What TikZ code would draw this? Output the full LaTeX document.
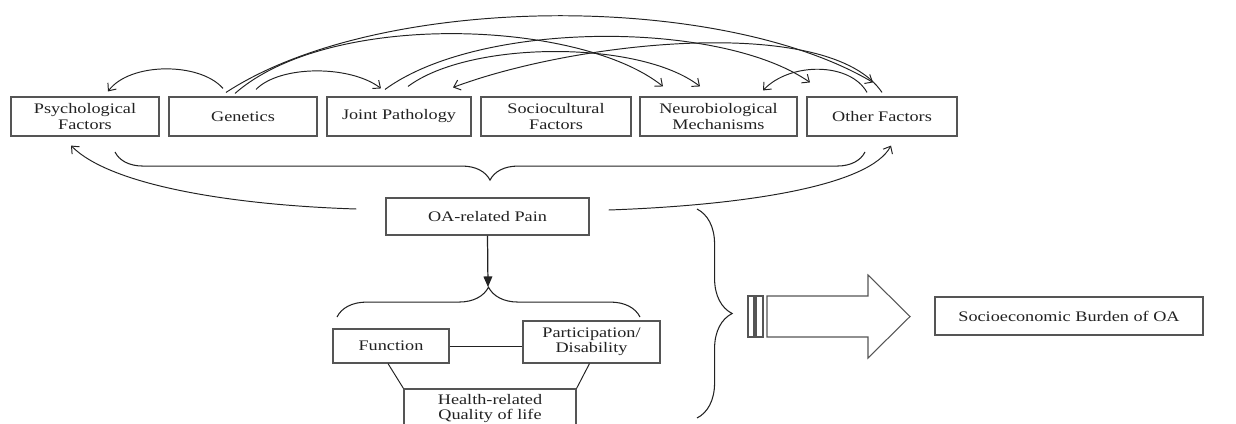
\documentclass[tikz,border=0pt]{standalone}
\usepackage{fontspec}
\setmainfont{Liberation Serif}[FakeStretch=1.25]
\usepackage{tikz}
\usetikzlibrary{arrows.meta,calc,decorations.pathreplacing}
\definecolor{oaink}{HTML}{222222}
\definecolor{oaline}{HTML}{555555}

\begin{document}
\begin{tikzpicture}[x=0.02cm, y=-0.02cm,
  factorbox/.style={draw=oaline, fill=white, line width=0.65pt,
                    minimum width=#1, minimum height=0.78cm, inner sep=1pt,
                    align=center, font=\fontsize{8.3}{8.6}\selectfont\color{oaink}},
  factorbox/.default=2.96cm,
  outcomebox/.style={draw=oaline, fill=white, line width=0.65pt,
                     inner sep=1pt, align=center,
                     font=\fontsize{8.3}{8.6}\selectfont\color{oaink}},
  link/.style={draw=oaink, line width=0.55pt,
               -{Straight Barb[length=3.5pt,width=6pt]}},
  plain/.style={draw=oaink, line width=0.55pt},
  curly/.style={draw=oaink, line width=0.6pt, decorate,
                decoration={brace, amplitude=#1}}
]
  \useasboundingbox (0,0) rectangle (1236,423);
  \clip (0,0) rectangle (1236,423);

  \node[factorbox] (psy) at (85,116.5) {Psychological\\Factors};
  \node[factorbox] (gen) at (243,116.5) {Genetics};
  \node[factorbox=2.88cm] (joint) at (399,116.5) {Joint Pathology};
  \node[factorbox=3.0cm] (soc) at (556,116.5) {Sociocultural\\Factors};
  \node[factorbox=3.14cm] (neu) at (718.5,116.5) {Neurobiological\\Mechanisms};
  \node[factorbox=3.0cm] (oth) at (882,116.5) {Other Factors};

  \node[outcomebox, minimum width=4.06cm, minimum height=0.74cm]
    (pain) at (487.5,216.5) {OA-related Pain};
  \node[outcomebox, minimum width=2.32cm, minimum height=0.68cm]
    (func) at (391,346) {Function};
  \node[outcomebox, minimum width=2.74cm, minimum height=0.84cm]
    (part) at (591.5,342) {Participation/\\Disability};
  \node[outcomebox, minimum width=3.44cm, minimum height=0.78cm]
    (hrq) at (490,408.5) {Health-related\\Quality of life};
  \node[outcomebox, minimum width=5.36cm, minimum height=0.76cm]
    (seb) at (1069,316) {Socioeconomic Burden of OA};

  \draw[link] ($(gen.north)+(-20,-8)$) .. controls (200,62) and (130,62) .. ($(psy.north)+(23,-5)$);
  \draw[link] ($(gen.north)+(13,-7)$) .. controls (280,65) and (350,65) .. ($(joint.north)+(-18,-8)$);
  \draw[link] ($(gen.north)+(-17,-4)$) .. controls (380,-8) and (720,-8) .. ($(oth.north)+(-9,-14)$);
  \draw[link] ($(gen.north)+(-8,-3)$) .. controls (330,10) and (580,20) .. ($(neu.north)+(-55.5,-10)$);
  \draw[link] ($(joint.north)+(-14,-7)$) .. controls (480,20) and (720,20) .. ($(oth.north)+(-72,-14)$);
  \draw[link] ($(joint.north)+(9,-10)$) .. controls (470,40) and (640,40) .. ($(neu.north)+(-18.5,-10)$);
  \draw[link] ($(oth.north)+(0,-4)$) .. controls (830,15) and (580,40) .. ($(joint.north)+(54,-9)$);
  \draw[link] ($(oth.north)+(-15,-4)$) .. controls (850,62) and (790,62) .. ($(neu.north)+(44.5,-6)$);

  \draw[curly=16pt] (865,152) -- (115,152);

  \draw[link] ($(pain.west)+(-29,-7.5)$) .. controls (230,205) and (110,185) .. ($(psy.south)+(-14,9)$);
  \draw[link] ($(pain.east)+(19,-6.5)$) .. controls (750,205) and (870,185) .. ($(oth.south)+(9,9)$);

  \coordinate (fqtip) at (488,287);
  \draw[draw=oaink, line width=0.7pt, -{Triangle[length=6pt,width=5pt]}] (pain.south) -- (fqtip);
  \draw[curly=17pt] (337,317) -- (640,317);

  \draw[plain] (func.east) -- (func.east -| part.west);
  \draw[plain] ($(func.south)+(-3,0)$) -- (hrq.north west);
  \draw[plain] ($(part.south)+(-2,0)$) -- (hrq.north east);

  \draw[curly=20pt] (697,209) -- (697,418);

  \draw[draw=oaline, line width=0.6pt] (748,296) rectangle (754,337);
  \draw[draw=oaline, line width=0.6pt] (756,296) rectangle (763,337);
  \draw[draw=oaline, line width=0.6pt] (767,296) -- (868,296) -- (868,275) -- (910,316.5)
    -- (868,358) -- (868,337) -- (767,337) -- cycle;

\end{tikzpicture}
\end{document}
